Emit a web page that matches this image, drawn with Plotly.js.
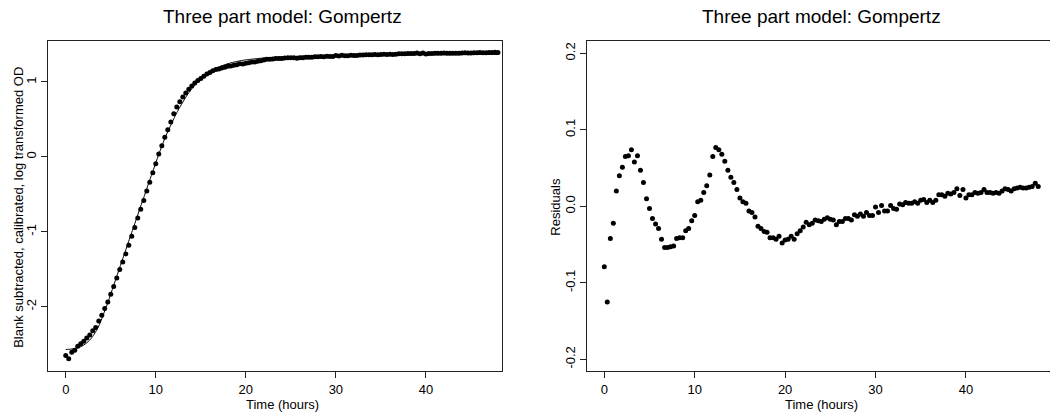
<!DOCTYPE html>
<html>
<head>
<meta charset="utf-8">
<script src="https://cdn.plot.ly/plotly-3.0.1.min.js"></script>
<style>
  html, body { margin: 0; padding: 0; background: #ffffff; }
  #chart { width: 1050px; height: 412px; }
</style>
</head>
<body>
<div id="chart"></div>
<script>
// Sampling times (hours), one reading every 20 minutes
const timeHours = [0,0.33,0.67,1,1.33,1.67,2,2.33,2.67,3,3.33,3.67,4,4.33,4.67,5,5.33,5.67,6,6.33,6.67,7,7.33,7.67,8,8.33,8.67,9,9.33,9.67,10,10.33,10.67,11,11.33,11.67,12,12.33,12.67,13,13.33,13.67,14,14.33,14.67,15,15.33,15.67,16,16.33,16.67,17,17.33,17.67,18,18.33,18.67,19,19.33,19.67,20,20.33,20.67,21,21.33,21.67,22,22.33,22.67,23,23.33,23.67,24,24.33,24.67,25,25.33,25.67,26,26.33,26.67,27,27.33,27.67,28,28.33,28.67,29,29.33,29.67,30,30.33,30.67,31,31.33,31.67,32,32.33,32.67,33,33.33,33.67,34,34.33,34.67,35,35.33,35.67,36,36.33,36.67,37,37.33,37.67,38,38.33,38.67,39,39.33,39.67,40,40.33,40.67,41,41.33,41.67,42,42.33,42.67,43,43.33,43.67,44,44.33,44.67,45,45.33,45.67,46,46.33,46.67,47,47.33,47.67,48];

// Blank subtracted, calibrated, log transformed OD readings
const odObserved = [-2.649,-2.693,-2.606,-2.580,-2.528,-2.493,-2.460,-2.417,-2.377,-2.321,
  -2.275,-2.189,-2.113,-2.024,-1.935,-1.833,-1.728,-1.616,-1.504,-1.401,
  -1.295,-1.178,-1.060,-0.942,-0.815,-0.697,-0.581,-0.456,-0.337,-0.212,
  -0.092,0.040,0.150,0.263,0.364,0.465,0.575,0.667,0.736,0.798,
  0.854,0.904,0.948,0.987,1.019,1.046,1.077,1.108,1.127,1.150,
  1.166,1.173,1.187,1.198,1.210,1.214,1.224,1.231,1.243,1.241,
  1.251,1.257,1.266,1.266,1.277,1.285,1.293,1.302,1.302,1.306,
  1.312,1.313,1.314,1.319,1.323,1.322,1.322,1.318,1.323,1.324,
  1.329,1.330,1.329,1.337,1.336,1.340,1.338,1.344,1.340,1.341,
  1.353,1.346,1.356,1.349,1.350,1.357,1.354,1.353,1.361,1.360,
  1.363,1.363,1.363,1.366,1.364,1.368,1.370,1.366,1.369,1.367,
  1.370,1.377,1.377,1.376,1.380,1.379,1.381,1.387,1.378,1.386,
  1.375,1.380,1.380,1.383,1.382,1.383,1.387,1.383,1.383,1.383,
  1.384,1.383,1.386,1.389,1.388,1.386,1.389,1.391,1.392,1.391,
  1.391,1.392,1.393,1.397,1.393];

// Fitted three part Gompertz curve at the same times
const odFitted = [-2.570,-2.568,-2.564,-2.558,-2.548,-2.533,-2.511,-2.482,-2.443,-2.395,
  -2.333,-2.255,-2.160,-2.055,-1.945,-1.830,-1.712,-1.593,-1.475,-1.358,
  -1.241,-1.124,-1.007,-0.890,-0.773,-0.656,-0.540,-0.424,-0.308,-0.193,
  -0.080,0.034,0.142,0.245,0.337,0.424,0.510,0.590,0.662,0.730,
  0.795,0.857,0.910,0.956,0.997,1.035,1.071,1.104,1.133,1.158,
  1.180,1.199,1.216,1.231,1.244,1.255,1.265,1.274,1.282,1.289,
  1.295,1.300,1.305,1.309,1.313,1.317,1.320,1.323,1.326,1.328,
  1.330,1.332,1.334,1.336,1.338,1.339,1.340,1.342,1.343,1.344,
  1.345,1.346,1.347,1.348,1.349,1.350,1.351,1.352,1.352,1.353,
  1.354,1.354,1.355,1.355,1.356,1.356,1.357,1.357,1.358,1.358,
  1.358,1.359,1.359,1.360,1.360,1.360,1.361,1.361,1.361,1.362,
  1.362,1.362,1.362,1.363,1.363,1.363,1.363,1.364,1.364,1.364,
  1.364,1.365,1.365,1.365,1.365,1.365,1.365,1.365,1.365,1.366,
  1.366,1.366,1.366,1.366,1.366,1.366,1.366,1.367,1.367,1.367,
  1.367,1.367,1.367,1.367,1.367];

// Residuals of the fit (observed minus fitted)
const residuals = [-0.079,-0.125,-0.042,-0.022,0.020,0.040,0.051,0.065,0.066,0.074,
  0.058,0.066,0.047,0.031,0.010,-0.003,-0.016,-0.023,-0.029,-0.043,
  -0.054,-0.054,-0.053,-0.052,-0.042,-0.041,-0.041,-0.032,-0.029,-0.019,
  -0.012,0.006,0.008,0.018,0.027,0.041,0.065,0.077,0.074,0.068,
  0.059,0.047,0.038,0.031,0.022,0.011,0.006,0.004,-0.006,-0.008,
  -0.014,-0.026,-0.029,-0.033,-0.034,-0.041,-0.041,-0.043,-0.039,-0.048,
  -0.044,-0.043,-0.039,-0.043,-0.036,-0.032,-0.027,-0.021,-0.024,-0.022,
  -0.018,-0.019,-0.020,-0.017,-0.015,-0.017,-0.018,-0.024,-0.020,-0.020,
  -0.016,-0.016,-0.018,-0.011,-0.013,-0.010,-0.013,-0.008,-0.012,-0.012,
  -0.001,-0.008,0.001,-0.006,-0.006,0.001,-0.003,-0.004,0.003,0.002,
  0.005,0.004,0.004,0.006,0.004,0.008,0.009,0.005,0.008,0.005,
  0.008,0.015,0.015,0.013,0.017,0.016,0.018,0.023,0.014,0.022,
  0.011,0.015,0.015,0.018,0.017,0.018,0.022,0.018,0.018,0.017,
  0.018,0.017,0.020,0.023,0.022,0.020,0.023,0.024,0.025,0.024,
  0.024,0.025,0.026,0.030,0.026];

// Tick labels
const timeTicks = [0, 10, 20, 30, 40];
const odTicks = [-2, -1, 0, 1];
const odTickText = ['-2', '-1', '0', '1'];
const residTicks = [-0.2, -0.1, 0, 0.1, 0.2];
const residTickText = ['-0.2', '-0.1', '0.0', '0.1', '0.2'];

const plotTitle = 'Three part model: Gompertz';
const timeLabel = 'Time (hours)';
const odLabel = 'Blank subtracted, calibrated, log transformed OD';
const residLabel = 'Residuals';

const W = 1050, H = 412;
const px = v => v / W;
const py = v => 1 - v / H;

const FONT = 'Liberation Sans, Arial, Helvetica, sans-serif';
const ink = '#000000';

const traces = [
  {
    x: timeHours, y: odObserved, type: 'scatter', mode: 'markers',
    marker: { color: ink, size: 5 }, xaxis: 'x', yaxis: 'y',
    hoverinfo: 'x+y'
  },
  {
    x: timeHours, y: odFitted, type: 'scatter', mode: 'lines',
    line: { color: ink, width: 1, shape: 'spline', smoothing: 0.6 },
    xaxis: 'x', yaxis: 'y', hoverinfo: 'x+y'
  },
  {
    x: timeHours, y: residuals, type: 'scatter', mode: 'markers',
    marker: { color: ink, size: 5 }, xaxis: 'x2', yaxis: 'y2',
    hoverinfo: 'x+y'
  }
];

const axisBase = {
  showgrid: false, zeroline: false, showline: true,
  linecolor: '#222', linewidth: 1,
  ticks: 'outside', ticklen: 6, tickwidth: 1, tickcolor: '#222',
  tickfont: { family: FONT, size: 13, color: ink },
  fixedrange: true
};

const yTop = 41, yBottom = 371;

const layout = {
  width: W, height: H,
  margin: { l: 0, r: 0, t: 0, b: 0 },
  paper_bgcolor: '#ffffff', plot_bgcolor: '#ffffff',
  showlegend: false,
  font: { family: FONT, color: ink },
  xaxis: Object.assign({}, axisBase, {
    domain: [px(48), px(502)], range: [-1.97, 48.45],
    tickvals: timeTicks, ticktext: timeTicks.map(String),
    mirror: true, anchor: 'y'
  }),
  yaxis: Object.assign({}, axisBase, {
    domain: [py(yBottom), py(yTop)], range: [-2.857, 1.547],
    tickvals: odTicks, ticktext: odTickText, tickangle: -90,
    mirror: true, anchor: 'x'
  }),
  xaxis2: Object.assign({}, axisBase, {
    domain: [px(587.3), 1], range: [-1.88, 49.3],
    tickvals: timeTicks, ticktext: timeTicks.map(String),
    mirror: true, anchor: 'y2'
  }),
  yaxis2: Object.assign({}, axisBase, {
    domain: [py(yBottom), py(yTop)], range: [-0.2153, 0.2161],
    tickvals: residTicks, ticktext: residTickText, tickangle: -90,
    mirror: false, anchor: 'x2'
  }),
  annotations: [
    { text: plotTitle, x: px(282), y: py(17), xref: 'paper', yref: 'paper',
      xanchor: 'center', yanchor: 'middle', showarrow: false,
      font: { family: FONT, size: 19, color: ink } },
    { text: plotTitle, x: px(821.5), y: py(17), xref: 'paper', yref: 'paper',
      xanchor: 'center', yanchor: 'middle', showarrow: false,
      font: { family: FONT, size: 19, color: ink } },
    { text: timeLabel, x: px(282), y: py(404), xref: 'paper', yref: 'paper',
      xanchor: 'center', yanchor: 'middle', showarrow: false,
      font: { family: FONT, size: 13, color: ink } },
    { text: timeLabel, x: px(821.8), y: py(404), xref: 'paper', yref: 'paper',
      xanchor: 'center', yanchor: 'middle', showarrow: false,
      font: { family: FONT, size: 13, color: ink } },
    { text: odLabel, x: px(18.3), y: py(207.5), xref: 'paper', yref: 'paper',
      xanchor: 'center', yanchor: 'middle', showarrow: false, textangle: -90,
      font: { family: FONT, size: 13, color: ink } },
    { text: residLabel, x: px(556), y: py(206.7), xref: 'paper', yref: 'paper',
      xanchor: 'center', yanchor: 'middle', showarrow: false, textangle: -90,
      font: { family: FONT, size: 13, color: ink } }
  ]
};

Plotly.newPlot('chart', traces, layout, { staticPlot: true, displayModeBar: false });
</script>
</body>
</html>
